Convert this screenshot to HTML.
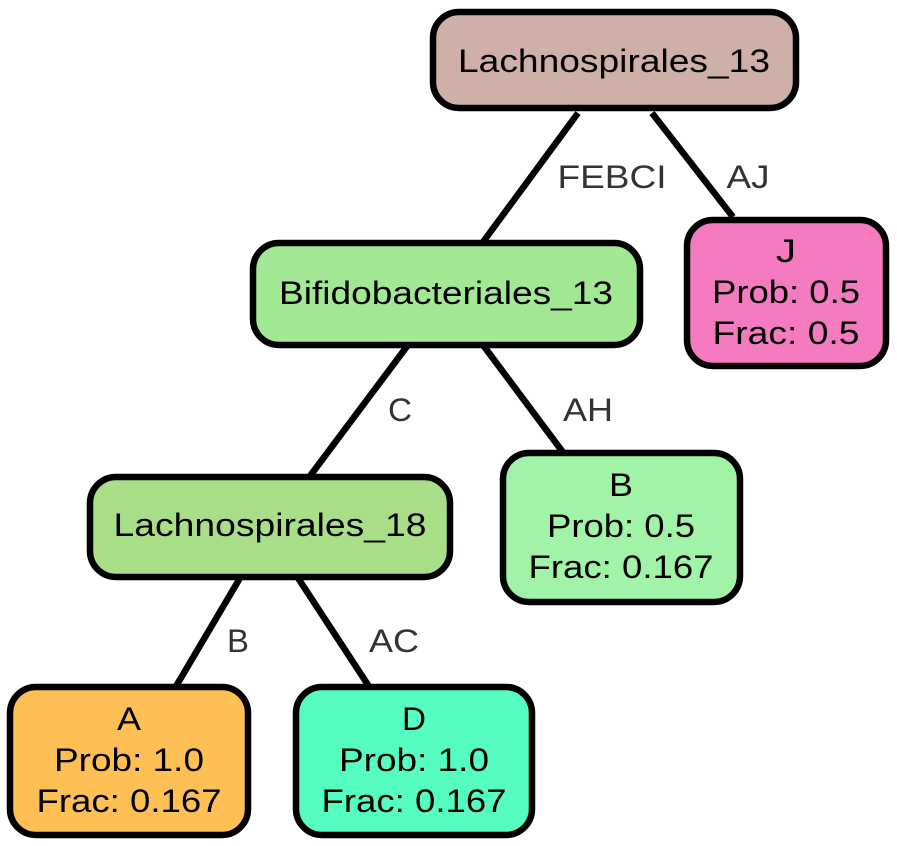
<!DOCTYPE html>
<html><head><meta charset="utf-8"><style>html,body{margin:0;padding:0;background:#fff}svg{display:block}</style></head>
<body>
<svg width="897" height="846" viewBox="0 0 897 846" xmlns="http://www.w3.org/2000/svg" font-family="Liberation Sans, sans-serif">
<g stroke="#000" stroke-width="6.5" fill="none">
<line x1="578" y1="113" x2="483" y2="242"/>
<line x1="652" y1="113" x2="733" y2="217"/>
<line x1="408" y1="345" x2="310" y2="476"/>
<line x1="483" y1="345" x2="565" y2="455"/>
<line x1="240" y1="578" x2="175" y2="688"/>
<line x1="298" y1="578" x2="370" y2="688"/>
</g>
<g font-size="32" fill="#333" text-anchor="middle">
<text x="612" y="188" textLength="109" lengthAdjust="spacingAndGlyphs">FEBCI</text>
<text x="748" y="188" textLength="43" lengthAdjust="spacingAndGlyphs">AJ</text>
<text x="400" y="421" textLength="24" lengthAdjust="spacingAndGlyphs">C</text>
<text x="588" y="421" textLength="50" lengthAdjust="spacingAndGlyphs">AH</text>
<text x="238" y="652" textLength="22" lengthAdjust="spacingAndGlyphs">B</text>
<text x="394" y="652" textLength="50" lengthAdjust="spacingAndGlyphs">AC</text>
</g>
<g stroke="#000" stroke-width="6.5">
<rect x="433" y="12" width="363" height="96" rx="26" fill="#CFB0A8"/>
<rect x="253" y="243" width="387" height="102" rx="26" fill="#A3E894"/>
<rect x="687" y="220" width="199" height="146" rx="26" fill="#F47BBF"/>
<rect x="90" y="477" width="360" height="100" rx="26" fill="#A9DF89"/>
<rect x="503" y="453" width="237" height="149" rx="26" fill="#A1F3A8"/>
<rect x="10" y="687" width="238" height="148" rx="26" fill="#FEC055"/>
<rect x="296" y="687" width="236" height="148" rx="26" fill="#55FDC1"/>
</g>
<g font-size="32" fill="#000" text-anchor="middle">
<text x="614" y="72" textLength="312" lengthAdjust="spacingAndGlyphs">Lachnospirales_13</text>
<text x="446" y="304" textLength="334" lengthAdjust="spacingAndGlyphs">Bifidobacteriales_13</text>
<text x="786" y="262" textLength="20" lengthAdjust="spacingAndGlyphs">J</text>
<text x="786" y="303" textLength="148" lengthAdjust="spacingAndGlyphs">Prob: 0.5</text>
<text x="786" y="344" textLength="147" lengthAdjust="spacingAndGlyphs">Frac: 0.5</text>
<text x="270" y="536" textLength="313" lengthAdjust="spacingAndGlyphs">Lachnospirales_18</text>
<text x="621" y="496" textLength="24" lengthAdjust="spacingAndGlyphs">B</text>
<text x="621" y="537" textLength="148" lengthAdjust="spacingAndGlyphs">Prob: 0.5</text>
<text x="621" y="578" textLength="185" lengthAdjust="spacingAndGlyphs">Frac: 0.167</text>
<text x="129" y="730" textLength="24" lengthAdjust="spacingAndGlyphs">A</text>
<text x="129" y="771" textLength="150" lengthAdjust="spacingAndGlyphs">Prob: 1.0</text>
<text x="129" y="812" textLength="185" lengthAdjust="spacingAndGlyphs">Frac: 0.167</text>
<text x="414" y="730" textLength="24" lengthAdjust="spacingAndGlyphs">D</text>
<text x="414" y="771" textLength="150" lengthAdjust="spacingAndGlyphs">Prob: 1.0</text>
<text x="414" y="812" textLength="185" lengthAdjust="spacingAndGlyphs">Frac: 0.167</text>
</g>
</svg>
</body></html>
